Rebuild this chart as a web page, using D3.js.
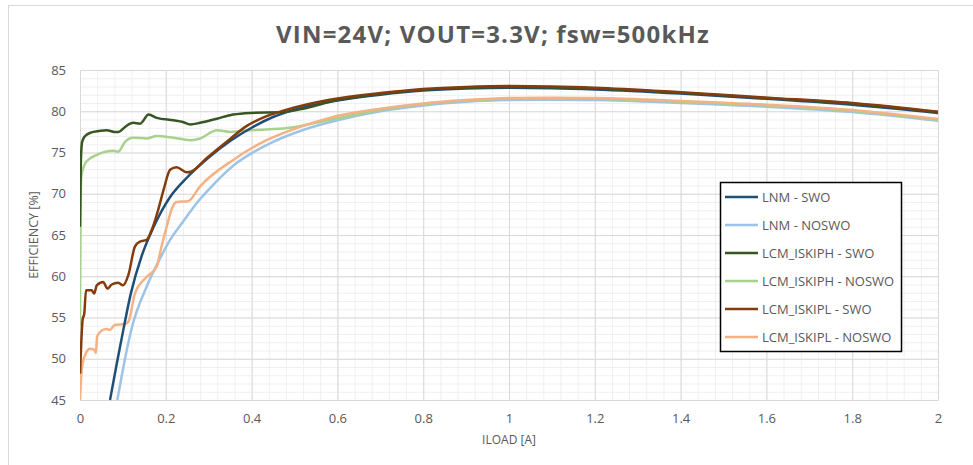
<!DOCTYPE html>
<html>
<head>
<meta charset="utf-8">
<script src="https://cdn.jsdelivr.net/npm/d3@7/dist/d3.min.js"></script>
<style>
  body { margin: 0; background: #fff; }
  svg text { font-family: "Open Sans", "Noto Sans", sans-serif; fill: #595959; }
</style>
</head>
<body>
<div id="chart"></div>
<script>
// efficiency curves, [ILOAD (A), efficiency (%)]
const lnmSwo = [[0.07,45],[0.085,49.2],[0.101,53.5],[0.118,57.8],[0.144,62.5],[0.171,65.9],[0.21,69.6],[0.25,72.0],[0.3,74.4],[0.35,76.4],[0.4,78.0],[0.45,79.3],[0.5,80.2],[0.6,81.3],[0.7,82.0],[0.8,82.5],[0.9,82.75],[1.0,82.85],[1.1,82.8],[1.2,82.65],[1.4,82.15],[1.6,81.5],[1.8,80.8],[2.0,79.8]];
const lnmNoswo = [[0.087,45],[0.105,50],[0.12,53.6],[0.155,58.7],[0.186,62.1],[0.21,64.4],[0.24,66.6],[0.265,68.4],[0.3,70.5],[0.357,73.4],[0.435,75.9],[0.513,77.6],[0.6,78.9],[0.7,80.0],[0.8,80.7],[0.9,81.15],[1.0,81.35],[1.1,81.4],[1.2,81.35],[1.4,81.0],[1.6,80.55],[1.8,79.9],[2.0,78.85]];
const iskiphSwo = [[0,66],[0.002,74],[0.005,76.3],[0.012,77],[0.025,77.4],[0.045,77.6],[0.062,77.7],[0.08,77.5],[0.09,77.5],[0.105,78.1],[0.124,78.6],[0.14,78.5],[0.16,79.6],[0.179,79.2],[0.218,78.9],[0.24,78.7],[0.257,78.4],[0.28,78.6],[0.319,79.1],[0.357,79.6],[0.396,79.8],[0.474,79.9],[0.52,80.3],[0.6,81.35],[0.7,82.1],[0.8,82.6],[0.9,82.85],[1.0,82.95],[1.1,82.9],[1.2,82.75],[1.4,82.25],[1.6,81.6],[1.8,80.95],[2.0,79.9]];
const iskiphNoswo = [[0,54],[0.001,65],[0.003,72.1],[0.015,73.9],[0.039,74.7],[0.078,75.2],[0.089,75.1],[0.105,76.3],[0.124,76.8],[0.155,76.7],[0.179,77.0],[0.218,76.8],[0.257,76.5],[0.28,76.7],[0.319,77.7],[0.35,77.5],[0.373,77.6],[0.435,77.8],[0.49,78.0],[0.55,78.6],[0.6,79.15],[0.7,80.15],[0.8,80.85],[0.9,81.3],[1.0,81.5],[1.1,81.55],[1.2,81.5],[1.4,81.15],[1.6,80.7],[1.8,80.05],[2.0,78.95]];
const iskiplSwo = [[0,48.2],[0.003,52],[0.006,54.7],[0.01,55.5],[0.014,58.3],[0.027,58.3],[0.033,57.9],[0.039,58.9],[0.054,59.3],[0.064,58.5],[0.074,59.0],[0.089,59.2],[0.1,58.9],[0.113,60.2],[0.128,63.6],[0.14,64.2],[0.155,64.4],[0.167,65.6],[0.182,68],[0.195,70.5],[0.21,72.9],[0.225,73.2],[0.249,72.6],[0.26,72.7],[0.295,74.3],[0.342,76.3],[0.388,78.2],[0.435,79.4],[0.482,80.2],[0.582,81.4],[0.7,82.2],[0.8,82.7],[0.9,82.95],[1.0,83.05],[1.1,83.0],[1.2,82.85],[1.4,82.3],[1.6,81.65],[1.8,81.0],[2.0,79.95]];
const iskiplNoswo = [[0,45],[0.003,48],[0.006,49.4],[0.014,50.7],[0.023,51.2],[0.033,51.1],[0.037,50.7],[0.04,52.7],[0.05,53.4],[0.062,53.6],[0.07,53.5],[0.081,54.1],[0.105,54.2],[0.113,54.5],[0.128,57.9],[0.155,59.9],[0.179,61.2],[0.19,63.6],[0.202,66],[0.215,68.3],[0.225,69],[0.252,69.1],[0.28,70.9],[0.357,74.1],[0.435,76.5],[0.513,78.1],[0.582,79.2],[0.7,80.3],[0.8,80.95],[0.9,81.35],[1.0,81.6],[1.1,81.65],[1.2,81.6],[1.4,81.25],[1.6,80.8],[1.8,80.15],[2.0,79.05]];

const seriesNames = ['LNM - SWO', 'LNM - NOSWO', 'LCM_ISKIPH - SWO', 'LCM_ISKIPH - NOSWO', 'LCM_ISKIPL - SWO', 'LCM_ISKIPL - NOSWO'];
const seriesData = [lnmSwo, lnmNoswo, iskiphSwo, iskiphNoswo, iskiplSwo, iskiplNoswo];
const seriesColors = ['#1f4e79', '#9dc3e6', '#375623', '#a9d18e', '#843c0c', '#f4b183'];
// draw order: light ones first so dark ones sit on top
const drawOrder = [1, 3, 5, 0, 2, 4];

const xTicks = [0, 0.2, 0.4, 0.6, 0.8, 1, 1.2, 1.4, 1.6, 1.8, 2];
const yTicks = [45, 50, 55, 60, 65, 70, 75, 80, 85];

const W = 973, H = 465;
const margin = {top: 70, right: 35, bottom: 65, left: 80};
const width = W - margin.left - margin.right;
const height = H - margin.top - margin.bottom;

const svg = d3.select('#chart').append('svg')
  .attr('width', W).attr('height', H);

// outer chart frame
svg.append('rect')
  .attr('x', 8.5).attr('y', 5.5)
  .attr('width', 980).attr('height', 480)
  .attr('fill', 'none').attr('stroke', '#d9d9d9');

svg.append('text')
  .attr('x', 493).attr('y', 43)
  .attr('text-anchor', 'middle')
  .style('font-size', '24px').style('font-weight', 'bold')
  .style('letter-spacing', '1.2px')
  .text('VIN=24V; VOUT=3.3V; fsw=500kHz');

const g = svg.append('g').attr('transform', `translate(${margin.left},${margin.top})`);

const x = d3.scaleLinear().domain([0, 2]).range([0, width]);
const y = d3.scaleLinear().domain([45, 85]).range([height, 0]);

// minor grid
g.append('g')
  .call(d3.axisBottom(x).tickValues(d3.range(0, 2.001, 0.04)).tickSize(-height).tickFormat(''))
  .attr('transform', `translate(0,${height})`)
  .call(a => a.select('.domain').remove())
  .call(a => a.selectAll('line').attr('stroke', '#f0f0f0'));
g.append('g')
  .call(d3.axisLeft(y).tickValues(d3.range(45, 85.01, 1)).tickSize(-width).tickFormat(''))
  .call(a => a.select('.domain').remove())
  .call(a => a.selectAll('line').attr('stroke', '#f0f0f0'));

// major grid + labels
g.append('g')
  .attr('transform', `translate(0,${height})`)
  .call(d3.axisBottom(x).tickValues(xTicks).tickSize(-height).tickPadding(14).tickFormat(d3.format('')))
  .call(a => a.select('.domain').attr('stroke', '#d9d9d9'))
  .call(a => a.selectAll('line').attr('stroke', '#d9d9d9'))
  .call(a => a.selectAll('text').style('font-size', '13px').attr('fill', '#595959'));
g.append('g')
  .call(d3.axisLeft(y).tickValues(yTicks).tickSize(-width).tickPadding(14))
  .call(a => a.select('.domain').remove())
  .call(a => a.selectAll('line').attr('stroke', '#d9d9d9'))
  .call(a => a.selectAll('text').style('font-size', '13px').attr('fill', '#595959'));

g.append('text')
  .attr('x', x(1)).attr('y', height + 44)
  .attr('text-anchor', 'middle')
  .style('font-size', '12px')
  .text('ILOAD [A]');
g.append('text')
  .attr('transform', `translate(-42,${y(65)}) rotate(-90)`)
  .attr('text-anchor', 'middle')
  .style('font-size', '12.5px')
  .text('EFFICIENCY [%]');

g.append('clipPath').attr('id', 'plot')
  .append('rect').attr('width', width).attr('height', height + 1);

const line = d3.line()
  .x(d => x(d[0]))
  .y(d => y(d[1]))
  .curve(d3.curveMonotoneX);

g.append('g').attr('clip-path', 'url(#plot)')
  .selectAll('path')
  .data(drawOrder)
  .join('path')
  .attr('d', i => line(seriesData[i]))
  .attr('fill', 'none')
  .attr('stroke', i => seriesColors[i])
  .attr('stroke-width', 2.5)
  .attr('stroke-linejoin', 'round');

// legend
const legend = svg.append('g').attr('transform', 'translate(720,182)');
legend.append('rect')
  .attr('x', 0.5).attr('y', 0.5)
  .attr('width', 181).attr('height', 169)
  .attr('fill', '#fff').attr('stroke', '#000').attr('stroke-width', 1.5);
const item = legend.selectAll('g.item')
  .data(seriesNames)
  .join('g')
  .attr('class', 'item')
  .attr('transform', (d, i) => `translate(0,${15 + i * 28})`);
item.append('line')
  .attr('x1', 5).attr('x2', 38)
  .attr('stroke', (d, i) => seriesColors[i])
  .attr('stroke-width', 2.5);
item.append('text')
  .attr('x', 42).attr('dy', '0.35em')
  .style('font-size', '13px')
  .text(d => d);
</script>
</body>
</html>
